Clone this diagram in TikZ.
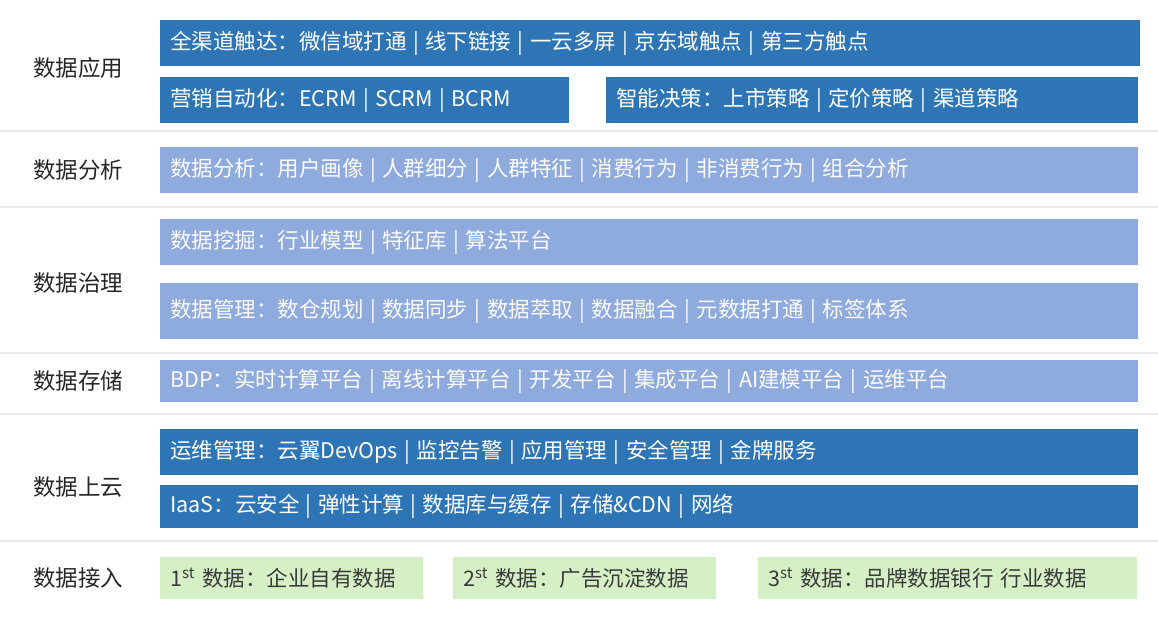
\documentclass[tikz,border=0pt]{standalone}
\usepackage{fontspec}
\setmainfont{Noto Sans CJK SC}
\usetikzlibrary{positioning}
\definecolor{deepblue}{HTML}{2E75B6}
\definecolor{paleblue}{HTML}{8FAADC}
\definecolor{palegreen}{HTML}{D6F0C6}
\definecolor{rulegray}{HTML}{E8E8E8}
\definecolor{labelgray}{HTML}{262626}
\definecolor{greentext}{HTML}{3A3A3A}
\newcommand{\sepbar}{\hspace{0.3em}|\hspace{0.3em}}

\begin{document}
\begin{tikzpicture}[x=1pt, y=-1pt,
		layer/.style={anchor=north west, inner xsep=10pt, inner ysep=0pt, align=left, minimum height=46pt, font=\fontsize{21.5}{24}\selectfont},
		darklayer/.style={layer, fill=deepblue, text=white},
		lightlayer/.style={layer, fill=paleblue, text=white!97!paleblue},
		sourcebox/.style={layer, fill=palegreen, text=greentext, minimum height=42pt},
		rowlabel/.style={font=\fontsize{22.5}{26}\selectfont, text=labelgray}]
		\useasboundingbox (0,0) rectangle (1158,616);

		% row separators
		\foreach \y in {131,207,353,414,541}
			\draw[rulegray, line width=1.5pt] (0,\y) -- (1158,\y);

		% data application
		\node[rowlabel] (yingyong) at (78,68) {数据应用};
		\node[darklayer, text width=960pt] (chudian) at (160,20) {全渠道触达：微信域打通\sepbar 线下链接\sepbar 一云多屏\sepbar 京东域触点\sepbar 第三方触点};
		\node[darklayer, text width=389pt] (yingxiao) at (160,77) {营销自动化：ECRM\sepbar SCRM\sepbar BCRM};
		\node[darklayer, text width=512pt] (juece) at (606,77) {智能决策：上市策略\sepbar 定价策略\sepbar 渠道策略};

		% data analysis
		\node[rowlabel] (fenxi) at (78,170) {数据分析};
		\node[lightlayer, text width=958pt] (huaxiang) at (160,147) {数据分析：用户画像\sepbar 人群细分\sepbar 人群特征\sepbar 消费行为\sepbar 非消费行为\sepbar 组合分析};

		% data governance
		\node[rowlabel] (zhili) at (78,283) {数据治理};
		\node[lightlayer, text width=958pt] (wajue) at (160,219) {数据挖掘：行业模型\sepbar 特征库\sepbar 算法平台};
		\node[lightlayer, text width=958pt, minimum height=56pt] (guanli) at (160,283) {数据管理：数仓规划\sepbar 数据同步\sepbar 数据萃取\sepbar 数据融合\sepbar 元数据打通\sepbar 标签体系};

		% data storage
		\node[rowlabel] (cunchu) at (78,381) {数据存储};
		\node[lightlayer, text width=958pt, minimum height=42pt] (bdp) at (160,360) {BDP：实时计算平台\sepbar 离线计算平台\sepbar 开发平台\sepbar 集成平台\sepbar AI建模平台\sepbar 运维平台};

		% cloud
		\node[rowlabel] (shangyun) at (78,487) {数据上云};
		\node[darklayer, text width=958pt] (yunwei) at (160,429) {运维管理：云翼DevOps\sepbar 监控告警\sepbar 应用管理\sepbar 安全管理\sepbar 金牌服务};
		\node[darklayer, text width=958pt, minimum height=43pt] (iaas) at (160,485) {IaaS：云安全\sepbar 弹性计算\sepbar 数据库与缓存\sepbar 存储\&CDN\sepbar 网络};

		% data sources
		\node[rowlabel] (jieru) at (78,578) {数据接入};
		\node[sourcebox, text width=243pt] (first) at (160,557) {1\textsuperscript{st} 数据：企业自有数据};
		\node[sourcebox, text width=243pt] (second) at (453,557) {2\textsuperscript{st} 数据：广告沉淀数据};
		\node[sourcebox, text width=359pt] (third) at (758,557) {3\textsuperscript{st} 数据：品牌数据银行 行业数据};
	\end{tikzpicture}
\end{document}
